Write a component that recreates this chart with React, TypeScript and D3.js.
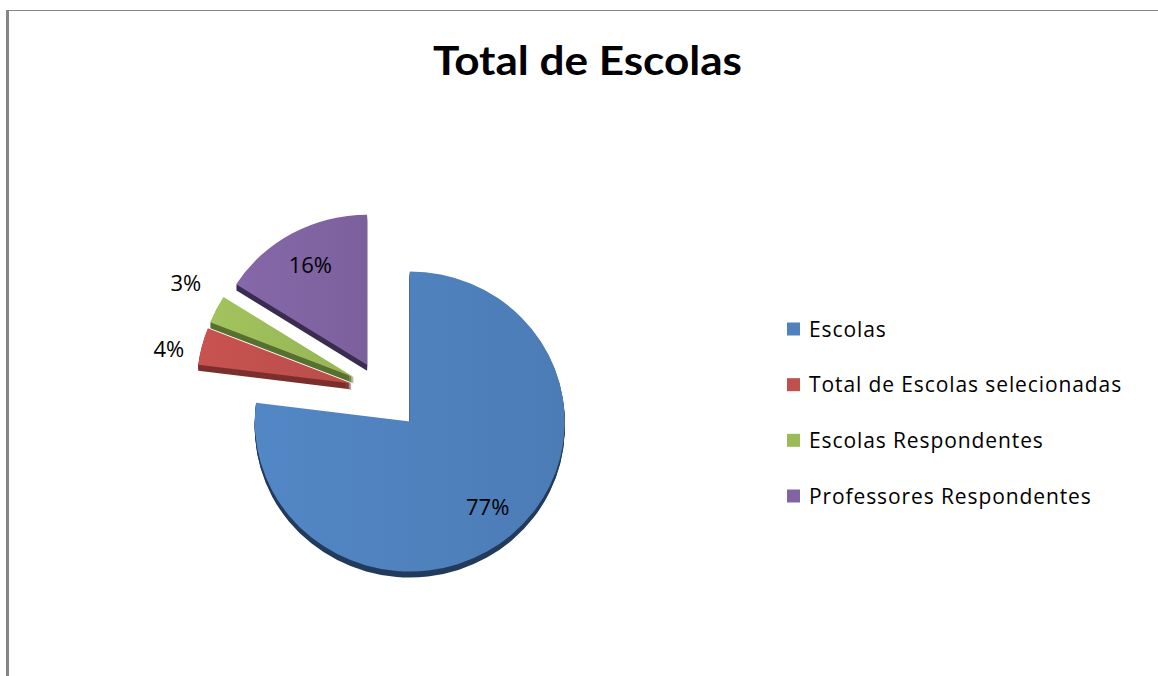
import React from "react";
import * as d3 from "d3";

const title = "Total de Escolas";
const categories = [
  "Escolas",
  "Total de Escolas selecionadas",
  "Escolas Respondentes",
  "Professores Respondentes",
];
const values = [77, 4, 3, 16];
const percentLabels = ["77%", "4%", "3%", "16%"];
const colors = ["#4F81BD", "#C0504D", "#9BBB59", "#8064A2"];
const sideColors = ["#223B5C", "#7A2F2D", "#58702F", "#3A2C50"];

const W = 1158;
const H = 676;
const CX = 382;
const CY = 391;
const RX = 155;
const RY = 150;
const DEPTH = 6;
const explode = [42, 31, 31, 31];
const TITLE_FONT = "Lato, 'Open Sans', sans-serif";
const FONT = "'Open Sans', Lato, sans-serif";

export default function App() {
  const pie = d3
    .pie<number>()
    .sort(null)
    .value((d) => d)
    .startAngle(0)
    .endAngle(2 * Math.PI);
  const arcs = pie(values);
  const arcGen = d3.arc<d3.PieArcDatum<number>>().innerRadius(0).outerRadius(RX);
  const sy = RY / RX;

  const slices = arcs.map((a, i) => {
    const mid = (a.startAngle + a.endAngle) / 2;
    const dx = Math.sin(mid);
    const dy = -Math.cos(mid);
    const ox = CX + explode[i] * dx;
    const oy = CY + explode[i] * dy * sy;
    return { a, i, mid, dx, dy, ox, oy, path: arcGen(a) as string };
  });

  const labels = slices.map((s) => {
    const frac = (s.a.endAngle - s.a.startAngle) / (2 * Math.PI);
    const inside = frac >= 0.1;
    const f = inside ? 0.76 : 1.22;
    return {
      i: s.i,
      inside,
      x: s.ox + RX * f * s.dx,
      y: s.oy + RY * f * s.dy,
    };
  });
  const outside = labels.filter((l) => !l.inside).sort((p, q) => p.y - q.y);
  for (let k = 1; k < outside.length; k++) {
    const prev = outside[k - 1];
    const cur = outside[k];
    const minGap = 66;
    if (cur.y - prev.y < minGap) {
      const m = (cur.y + prev.y) / 2;
      prev.y = m - minGap / 2;
      cur.y = m + minGap / 2;
    }
  }

  const order = [3, 2, 1, 0];
  const legendY = d3.scaleLinear().domain([0, 3]).range([329, 496]);
  const depthSteps = d3.range(1, DEPTH + 1);

  return (
    <svg
      width={W}
      height={H}
      style={{ position: "absolute", left: 0, top: 0, display: "block" }}
    >
      <defs>
        {colors.map((c, i) => (
          <linearGradient key={i} id={`g${i}`} x1="0" x2="1" y1="0" y2="0">
            <stop offset="0%" stopColor={d3.color(c)!.brighter(0.12).formatHex()} />
            <stop offset="100%" stopColor={d3.color(c)!.darker(0.1).formatHex()} />
          </linearGradient>
        ))}
      </defs>
      <rect x={0} y={0} width={W} height={H} fill="#fff" />
      <line x1={6} y1={10.5} x2={W} y2={10.5} stroke="#868686" strokeWidth={1} />
      <rect x={6} y={10} width={3} height={H - 10} fill="#868686" />

      <text
        x={587.5}
        y={75}
        textAnchor="middle"
        fontFamily={TITLE_FONT}
        fontWeight="bold"
        fontSize={41}
        textLength={309}
        lengthAdjust="spacingAndGlyphs"
        fill="#000"
      >
        {title}
      </text>

      {order.map((i) => {
        const s = slices[i];
        return (
          <g key={i}>
            {depthSteps.map((k) => (
              <path
                key={k}
                d={s.path}
                transform={`translate(${s.ox},${s.oy + k}) scale(1,${sy})`}
                fill={sideColors[i]}
              />
            ))}
            <path
              d={s.path}
              transform={`translate(${s.ox},${s.oy}) scale(1,${sy})`}
              fill={`url(#g${i})`}
            />
          </g>
        );
      })}

      {labels.map((l) => (
        <text
          key={l.i}
          x={l.x}
          y={l.y}
          dy="0.36em"
          textAnchor="middle"
          fontFamily={FONT}
          fontSize={22}
          fill="#000"
        >
          {percentLabels[l.i]}
        </text>
      ))}

      {categories.map((c, i) => (
        <g key={c} transform={`translate(787,${legendY(i)})`}>
          <rect x={0} y={-6.5} width={13} height={13} fill={colors[i]} />
          <text
            x={22}
            y={0}
            dy="0.36em"
            fontFamily={FONT}
            fontSize={21}
            letterSpacing={0.9}
            fill="#000"
          >
            {c}
          </text>
        </g>
      ))}
    </svg>
  );
}
